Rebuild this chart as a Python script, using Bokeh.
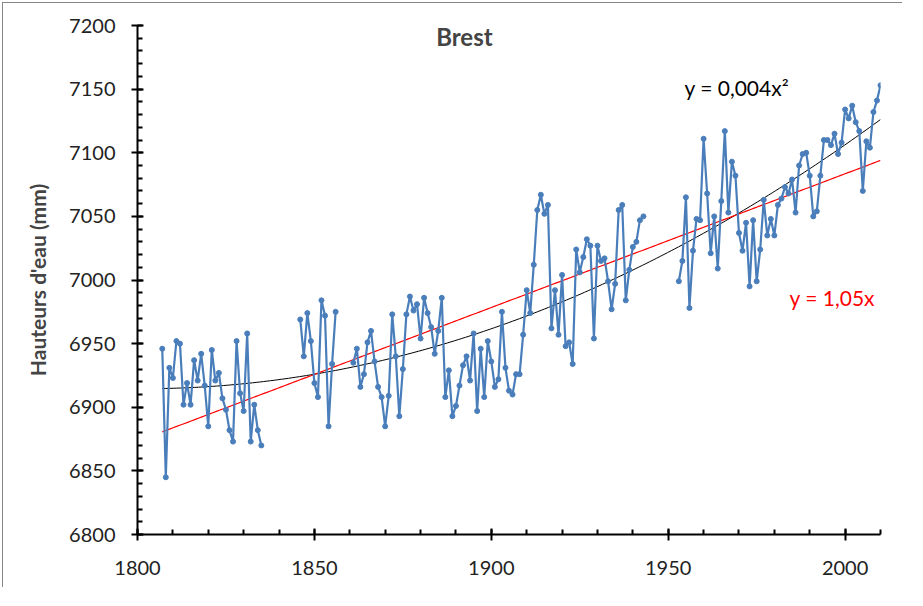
import numpy as np
from bokeh.plotting import figure
from bokeh.models import SingleIntervalTicker, Range1d, Label
from bokeh.embed import file_html
from bokeh.resources import INLINE

# ---- data (annual mean sea level, Brest, mm) ----
seg1_start = 1807
seg1_values = [6946, 6845, 6931, 6923, 6952, 6950, 6902, 6919, 6902, 6937,
               6921, 6942, 6917, 6885, 6945, 6921, 6927, 6907, 6898, 6882,
               6873, 6952, 6911, 6897, 6958, 6873, 6902, 6882, 6870]
seg2_start = 1846
seg2_values = [6969, 6940, 6974, 6952, 6919, 6908, 6984, 6972, 6885, 6934, 6975]
seg3_start = 1861
seg3_values = [6935, 6946, 6916, 6926, 6951, 6960, 6936, 6916, 6908, 6885,
               6909, 6973, 6940, 6893, 6930, 6973, 6987, 6976, 6981, 6954,
               6986, 6974, 6963, 6942, 6960, 6986, 6908, 6929, 6893, 6901,
               6917, 6933, 6940, 6921, 6958, 6897, 6946, 6908, 6952, 6936,
               6916, 6922, 6975, 6931, 6913, 6910, 6926, 6926, 6957, 6992,
               6974, 7012, 7055, 7067, 7052, 7059, 6962, 6992, 6957, 7004,
               6948, 6951, 6934, 7024, 7006, 7018, 7032, 7027, 6954, 7027,
               7015, 7017, 6999, 6977, 6997, 7055, 7059, 6984, 7008, 7026,
               7030, 7047, 7050]
seg4_start = 1953
seg4_values = [6999, 7015, 7065, 6978, 7023, 7048, 7047, 7111, 7068, 7021,
               7050, 7009, 7062, 7117, 7053, 7093, 7082, 7037, 7023, 7045,
               6995, 7047, 6999, 7024, 7063, 7035, 7048, 7035, 7059, 7064,
               7073, 7068, 7079, 7053, 7090, 7099, 7100, 7082, 7050, 7054,
               7082, 7110, 7110, 7106, 7115, 7099, 7108, 7134, 7127, 7137,
               7124, 7117, 7070, 7109, 7104, 7132, 7141, 7153]

title_text = "Brest"
y_label = "Hauteurs d'eau (mm)"
quad_label = "y = 0,004x\u00b2"
lin_label = "y = 1,05x"

# ---- build series with gaps ----
segments = [(seg1_start, seg1_values), (seg2_start, seg2_values),
            (seg3_start, seg3_values), (seg4_start, seg4_values)]
xs, ys = [], []
for i, (start, vals) in enumerate(segments):
    if i > 0:
        xs.append(np.nan)
        ys.append(np.nan)
    xs.extend(range(start, start + len(vals)))
    ys.extend(vals)
xs = np.array(xs, dtype=float)
ys = np.array(ys, dtype=float)
mask = ~np.isnan(xs)
xd, yd = xs[mask], ys[mask]

# trend lines fitted on the data
x0 = xd.mean()
lin = np.polyfit(xd - x0, yd, 1)
quad = np.polyfit(xd - x0, yd, 2)
xt = np.linspace(xd.min(), xd.max(), 200)

W, H = 900, 585
p = figure(width=W, height=H, output_backend="svg", toolbar_location=None,
           x_range=Range1d(1800, 2010), y_range=Range1d(6800, 7200),
           min_border_left=134, min_border_right=23, min_border_top=22,
           min_border_bottom=54)
p.styles = {"margin-left": "2px", "margin-top": "2px",
            "border-left": "1px solid #868686", "border-top": "1px solid #868686"}
p.outline_line_color = None
p.grid.visible = False
p.background_fill_color = "white"

p.line(xt, np.polyval(quad, xt - x0), line_color="black", line_width=1)
p.line(xt, np.polyval(lin, xt - x0), line_color="#ff0000", line_width=1.2)
p.line(xs, ys, line_color="#4a7ebb", line_width=2.2)
p.scatter(xd, yd, size=5, fill_color="#4a7ebb", line_color="#4a7ebb")

font = "Lato"
for ax in (p.xaxis[0], p.yaxis[0]):
    ax.ticker = SingleIntervalTicker(interval=50, num_minor_ticks=5)
    ax.axis_line_width = 2
    ax.axis_line_color = "black"
    ax.major_tick_line_width = 2
    ax.major_tick_in = 6
    ax.major_tick_out = 6
    ax.minor_tick_line_width = 2
    ax.minor_tick_in = 5
    ax.minor_tick_out = 0
    ax.major_label_text_font = font
    ax.major_label_text_font_size = "20px"
    ax.major_label_text_color = "#222222"

p.xaxis.major_label_standoff = 20
p.yaxis.major_label_standoff = 16
p.yaxis.axis_label = y_label
p.yaxis.axis_label_text_font = font
p.yaxis.axis_label_text_font_style = "bold"
p.yaxis.axis_label_text_font_size = "21px"
p.yaxis.axis_label_standoff = 16

p.add_layout(Label(x=1892.4, y=7191, text=title_text, text_font=font,
                   text_font_style="bold", text_font_size="24px",
                   text_align="center", text_baseline="middle"))
p.add_layout(Label(x=1954.6, y=7151, text=quad_label, text_font=font,
                   text_font_size="21px", text_color="black",
                   text_align="left", text_baseline="middle"))
p.add_layout(Label(x=1984.3, y=6986, text=lin_label, text_font=font,
                   text_font_size="21px", text_color="#ff0000",
                   text_align="left", text_baseline="middle"))

open("out.html", "w").write(file_html(p, INLINE))
